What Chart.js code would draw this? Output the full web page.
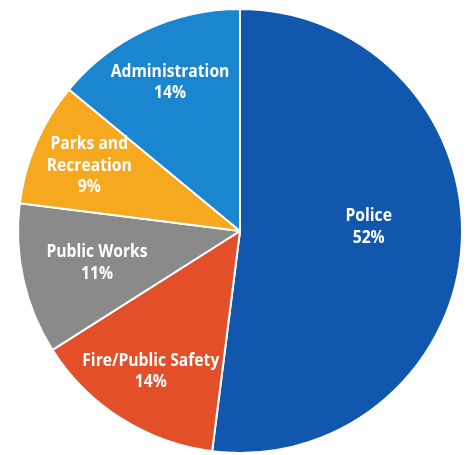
<!DOCTYPE html>
<html>
<head>
<meta charset="utf-8">
<script src="https://cdn.jsdelivr.net/npm/chart.js@4"></script>
<style>
  html, body { margin: 0; padding: 0; background: #fff; }
  canvas { display: block; }
</style>
</head>
<body>
<canvas id="pieChart" width="470" height="455"></canvas>
<script>
// 데이터
const categories = ['Police', 'Fire/Public Safety', 'Public Works', 'Parks and Recreation', 'Administration'];
const shares = [52, 14, 11, 9, 14];
const labelLines = [['Police'], ['Fire/Public Safety'], ['Public Works'], ['Parks and', 'Recreation'], ['Administration']];

const sliceColors = ['#1257ae', '#e24f28', '#8a8a8a', '#f6a81f', '#1a86cf'];
// 라벨 위치 (반지름 비율, 각도 보정)
const labelRadius = [0.58, 0.75, 0.66, 0.74, 0.74];
const labelAngleShift = [-5.5, 0, 0, 0, 0];

const labelFont = 'bold 18px "Open Sans", "Noto Sans", sans-serif';
const squeeze = 0.87; // 좁은 글꼴 흉내

// 조각 안에 글씨 쓰기
const sliceLabels = {
    id: 'slice-labels',
    afterDatasetsDraw: function (chart) {
        const ctx = chart.ctx;
        const meta = chart.getDatasetMeta(0);
        const lineHeight = 21.5;
        meta.data.forEach(function (arc, i) {
            const mid = (arc.startAngle + arc.endAngle) / 2 + labelAngleShift[i] * Math.PI / 180;
            const r = arc.outerRadius * labelRadius[i];
            const cx = arc.x + Math.cos(mid) * r;
            const cy = arc.y + Math.sin(mid) * r;
            const lines = labelLines[i].concat([shares[i] + '%']);
            let y = cy - (lines.length - 1) * lineHeight / 2;
            lines.forEach(function (t) {
                ctx.save();
                ctx.font = labelFont;
                ctx.fillStyle = '#fff';
                ctx.textAlign = 'center';
                ctx.textBaseline = 'middle';
                ctx.translate(cx, y);
                ctx.scale(squeeze, 1);
                ctx.fillText(t, 0, 0);
                ctx.restore();
                y += lineHeight;
            });
        });
    }
};

new Chart(document.getElementById('pieChart').getContext('2d'), {
    type: 'pie',
    data: {
        labels: categories,
        datasets: [{
            data: shares,
            backgroundColor: sliceColors,
            borderColor: '#ffffff',
            borderWidth: 2
        }]
    },
    options: {
        responsive: false,
        animation: false,
        layout: { padding: { left: 17, right: 7, top: 8, bottom: 1 } },
        plugins: {
            legend: { display: false },
            tooltip: { enabled: false }
        }
    },
    plugins: [sliceLabels]
});
</script>
</body>
</html>
